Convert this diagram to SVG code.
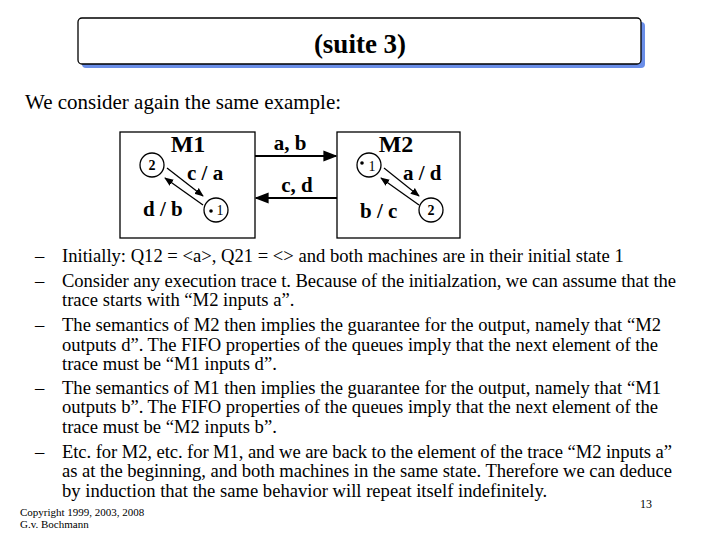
<svg xmlns="http://www.w3.org/2000/svg" width="720" height="540" viewBox="0 0 720 540">
<style>
text{font-family:"Liberation Serif",serif;fill:#000}
.b{font-size:18.6px}
.lb{font-size:21px;font-weight:bold}
.st{font-size:14px}
.c{stroke:#000;stroke-width:1.3;fill:#fff}
.a{stroke:#000;stroke-width:1.3;fill:none;marker-end:url(#ah)}
</style>
<defs><marker id="ah" viewBox="0 0 10 10" refX="9" refY="5" markerWidth="7" markerHeight="7" orient="auto"><path d="M0,1 L10,5 L0,9 z" fill="#000"/></marker></defs>
<rect width="720" height="540" fill="#fff"/>
<g id="title">
<rect x="82" y="22" width="563" height="46" rx="4" fill="#6a8ee8"/>
<rect x="78" y="18" width="563" height="46" rx="4" fill="#fff" stroke="#000" stroke-width="1.3"/>
<text x="360" y="53" text-anchor="middle" style="font-size:27px;font-weight:bold">(suite 3)</text>
</g>
<text x="25" y="109" style="font-size:21px">We consider again the same example:</text>
<g id="M1">
<rect x="120" y="132" width="135" height="106" fill="none" stroke="#000" stroke-width="1.3"/>
<text class="lb" x="188" y="152" text-anchor="middle" style="font-size:24px">M1</text>
<circle cx="152" cy="165" r="12" class="c"/><text class="st" x="152" y="170" text-anchor="middle" font-weight="bold">2</text>
<circle cx="216" cy="210" r="12" class="c"/><circle cx="211" cy="211" r="1.8"/><text class="st" x="220" y="215" text-anchor="middle">1</text>
<line x1="167" y1="168" x2="203" y2="196" class="a"/>
<line x1="203" y1="205" x2="165" y2="178" class="a"/>
<text class="lb" x="187" y="180">c / a</text>
<text class="lb" x="143" y="216">d / b</text>
</g>
<g id="M2">
<rect x="337" y="132" width="123" height="106" fill="none" stroke="#000" stroke-width="1.3"/>
<text class="lb" x="396" y="152" text-anchor="middle" style="font-size:24px">M2</text>
<circle cx="369" cy="165" r="12" class="c"/><circle cx="362" cy="163" r="1.8"/><text class="st" x="372" y="171" text-anchor="middle">1</text>
<circle cx="431" cy="210" r="12" class="c"/><text class="st" x="431" y="215" text-anchor="middle" font-weight="bold">2</text>
<line x1="384" y1="168" x2="419" y2="196" class="a"/>
<line x1="419" y1="205" x2="381" y2="178" class="a"/>
<text class="lb" x="403" y="180">a / d</text>
<text class="lb" x="360" y="218">b / c</text>
</g>
<g id="connectors">
<line x1="255" y1="156" x2="336" y2="156" class="a" style="stroke-width:2"/>
<line x1="337" y1="198" x2="256" y2="198" class="a" style="stroke-width:2"/>
<text class="lb" x="290" y="150" text-anchor="middle">a, b</text>
<text class="lb" x="297" y="192" text-anchor="middle">c, d</text>
</g>
<g id="body" class="b">
<text x="35" y="262">–</text><text x="62" y="262">Initially: Q12 = &lt;a&gt;, Q21 = &lt;&gt; and both machines are in their initial state 1</text>
<text x="35" y="287">–</text><text x="62" y="287" textLength="614">Consider any execution trace t. Because of the initialzation, we can assume that the</text>
<text x="62" y="306">trace starts with “M2 inputs a”.</text>
<text x="35" y="331">–</text><text x="62" y="331">The semantics of M2 then implies the guarantee for the output, namely that “M2</text>
<text x="62" y="351" textLength="596">outputs d”. The FIFO properties of the queues imply that the next element of the</text>
<text x="62" y="370">trace must be “M1 inputs d”.</text>
<text x="35" y="394">–</text><text x="62" y="394">The semantics of M1 then implies the guarantee for the output, namely that “M1</text>
<text x="62" y="413" textLength="596">outputs b”. The FIFO properties of the queues imply that the next element of the</text>
<text x="62" y="433">trace must be “M2 inputs b”.</text>
<text x="35" y="458">–</text><text x="62" y="458" textLength="610">Etc. for M2, etc. for M1, and we are back to the element of the trace “M2 inputs a”</text>
<text x="62" y="477" textLength="610">as at the beginning, and both machines in the same state. Therefore we can deduce</text>
<text x="62" y="497">by induction that the same behavior will repeat itself indefinitely.</text>
</g>
<text x="20" y="516" style="font-size:11px">Copyright 1999, 2003, 2008</text>
<text x="20" y="528" style="font-size:11px">G.v. Bochmann</text>
<text x="640" y="508" style="font-size:12px">13</text>
</svg>
